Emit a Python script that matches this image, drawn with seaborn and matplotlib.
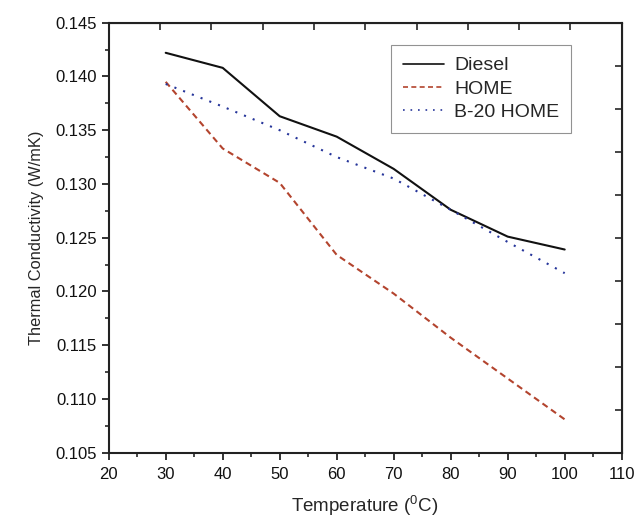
import pandas as pd
import matplotlib
matplotlib.use("Agg")
import matplotlib.pyplot as plt
import seaborn as sns

# datos
temperatura = [30, 40, 50, 60, 70, 80, 90, 100]
diesel = [0.1422, 0.1408, 0.1363, 0.1344, 0.1314, 0.1276, 0.1251, 0.1239]
home = [0.1395, 0.1333, 0.1301, 0.1234, 0.1198, 0.1157, 0.1119, 0.1081]
b20_home = [0.1393, 0.1372, 0.1350, 0.1325, 0.1305, 0.1276, 0.1246, 0.1217]
series = ["Diesel", "HOME", "B-20 HOME"]

df = pd.DataFrame({
    "Temperatura": temperatura * 3,
    "Valor": diesel + home + b20_home,
    "Serie": [s for s in series for _ in temperatura],
})

sns.set_style("ticks")
plt.rcParams["font.family"] = ["Liberation Sans", "DejaVu Sans"]
plt.rcParams["mathtext.fontset"] = "custom"
plt.rcParams["mathtext.rm"] = "Liberation Sans"

fig = plt.figure(figsize=(6.44, 5.18), dpi=100)
ax = fig.add_axes([108.7 / 644, 1 - 452.7 / 518, (621.7 - 108.7) / 644, (452.7 - 22.7) / 518])

colores = {"Diesel": "#111111", "HOME": "#b3442e", "B-20 HOME": "#26359a"}
estilos = {"Diesel": "", "HOME": (3, 2), "B-20 HOME": (1, 3.5)}
sns.lineplot(data=df, x="Temperatura", y="Valor", hue="Serie", style="Serie",
             palette=colores, dashes=estilos, linewidth=1.5, ax=ax)

ax.set_xlim(20, 110)
ax.set_ylim(0.105, 0.145)
ax.set_xticks(range(20, 111, 10))
ax.set_xticks(range(25, 110, 10), minor=True)
yt = [0.105 + 0.005 * i for i in range(9)]
ax.set_yticks(yt)
ax.set_yticklabels([f"{v:.3f}" for v in yt])
ax.set_yticks([0.1075 + 0.005 * i for i in range(8)], minor=True)
ax.tick_params(which="major", direction="out", length=5, width=1.2, labelsize=12, colors="#111111")
ax.tick_params(axis="x", which="major", pad=5)
ax.tick_params(which="minor", direction="out", length=3, width=1.2)
for s in ax.spines.values():
    s.set_linewidth(1.5)
    s.set_color("#222222")

# ejes superior y derecho con sus propias marcas
top = ax.secondary_xaxis("top")
top.set_xticks([20 + 9 * i for i in range(11)])
top.set_xticklabels([])
top.tick_params(direction="in", length=5, width=1.2)
right = ax.secondary_yaxis("right")
right.set_yticks([0.105 + 0.004 * i for i in range(11)])
right.set_yticklabels([])
right.tick_params(direction="in", length=5, width=1.2)

ax.set_xlabel("Temperature ($^{0}$C)", fontsize=13.5, labelpad=8)
ax.set_ylabel("Thermal Conductivity (W/mK)", fontsize=11.8, labelpad=8)

leg = ax.legend(title=None, loc="upper right", bbox_to_anchor=(0.901, 0.948),
                borderaxespad=0, fontsize=14, frameon=True, fancybox=False,
                handlelength=2.15, borderpad=0.6, labelspacing=0.3,
                handletextpad=0.5)
leg.get_frame().set_edgecolor("#777777")
leg.get_frame().set_linewidth(0.8)
for h in leg.get_lines():
    h.set_linewidth(1.2)

plt.savefig("out.png", dpi=100)
